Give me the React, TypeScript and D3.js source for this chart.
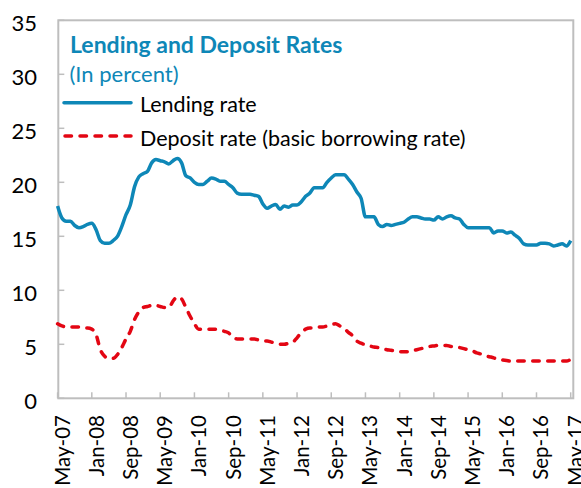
import React from "react";
import * as d3 from "d3";

// Monthly data, May-07 .. May-17 (index 0..120)
const lendingRate: number[] = [
  17.8, 16.7, 16.4, 16.4, 16.0, 15.8, 15.9, 16.1, 16.2, 15.6,
  14.6, 14.35, 14.35, 14.6, 15.0, 15.9, 17.0, 17.9, 19.6, 20.5,
  20.8, 21.0, 21.8, 22.1, 22.0, 21.9, 21.7, 22.0, 22.2, 21.8,
  20.6, 20.4, 20.0, 19.8, 19.8, 20.1, 20.4, 20.3, 20.1, 20.1,
  19.8, 19.5, 19.0, 18.9, 18.9, 18.9, 18.8, 18.7, 18.0, 17.6,
  17.8, 17.95, 17.5, 17.8, 17.7, 17.9, 17.9, 18.2, 18.7, 19.0,
  19.5, 19.5, 19.5, 20.0, 20.4, 20.7, 20.7, 20.7, 20.3, 19.8,
  19.1, 18.5, 16.8, 16.8, 16.8, 16.1, 15.9, 16.1, 16.0, 16.1,
  16.2, 16.3, 16.6, 16.8, 16.8, 16.7, 16.6, 16.6, 16.5, 16.8,
  16.6, 16.8, 16.9, 16.7, 16.6, 16.1, 15.8, 15.8, 15.8, 15.8,
  15.8, 15.8, 15.3, 15.5, 15.5, 15.3, 15.4, 15.1, 14.8, 14.3,
  14.2, 14.2, 14.2, 14.35, 14.35, 14.3, 14.1, 14.2, 14.3, 14.1,
  14.6,
];

const depositRate: number[] = [
  6.9, 6.7, 6.6, 6.6, 6.6, 6.6, 6.5, 6.5, 6.4, 5.9,
  4.5, 3.9, 3.7, 3.7, 4.05, 4.7, 5.5, 6.2, 7.3, 8.0,
  8.4, 8.5, 8.6, 8.6, 8.5, 8.4, 8.4, 9.0, 9.4, 9.2,
  8.4, 7.6, 6.9, 6.4, 6.4, 6.4, 6.4, 6.4, 6.3, 6.2,
  6.05, 5.6, 5.5, 5.5, 5.5, 5.5, 5.5, 5.4, 5.3, 5.3,
  5.2, 5.1, 5.0, 5.0, 5.1, 5.2, 5.6, 6.1, 6.4, 6.5,
  6.5, 6.6, 6.6, 6.7, 6.8, 6.9, 6.7, 6.5, 6.1, 5.8,
  5.3, 5.1, 4.95, 4.85, 4.75, 4.7, 4.6, 4.5, 4.45, 4.35,
  4.3, 4.3, 4.3, 4.4, 4.5, 4.6, 4.7, 4.8, 4.85, 4.9,
  4.9, 4.9, 4.8, 4.8, 4.7, 4.6, 4.5, 4.4, 4.2, 4.1,
  3.95, 3.85, 3.75, 3.6, 3.55, 3.5, 3.45, 3.45, 3.45, 3.45,
  3.45, 3.45, 3.45, 3.45, 3.45, 3.45, 3.45, 3.45, 3.45, 3.45,
  3.6,
];

const xTickLabels: string[] = [
  "May-07", "Jan-08", "Sep-08", "May-09", "Jan-10", "Sep-10", "May-11", "Jan-12",
  "Sep-12", "May-13", "Jan-14", "Sep-14", "May-15", "Jan-16", "Sep-16", "May-17",
];
const xTickStep = 8; // months between labelled ticks
const yTicks: number[] = [0, 5, 10, 15, 20, 25, 30, 35];

const seriesNames = ["Lending rate", "Deposit rate (basic borrowing rate)"];
const title = "Lending and Deposit Rates";
const subtitle = "(In percent)";

const W = 581;
const H = 488;
const plotLeft = 58.3;
const plotRight = 573.3;
const plotTop = 20.3;
const plotBottom = 398.3;
const FONT = "Lato, 'Open Sans', sans-serif";
const TEAL = "#0E87B7";
const RED = "#E30613";
const GRAY = "#BEBEBE";
const DASH = "6.5,8.5";

export default function App() {
  const x = d3.scaleLinear().domain([0, 120]).range([57.6, 570.7]);
  const y = d3.scaleLinear().domain([0, 35]).range([plotBottom, plotTop]);

  const line = d3
    .line<number>()
    .x((_, i) => x(i))
    .y((d) => y(d))
    .curve(d3.curveMonotoneX);

  return (
    <svg width={W} height={H} style={{ display: "block", position: "absolute", left: 0, top: 0 }}>
      <rect x={0} y={0} width={W} height={H} fill="#fff" />
      {/* frame */}
      <rect
        x={plotLeft}
        y={plotTop}
        width={plotRight - plotLeft}
        height={plotBottom - plotTop}
        fill="none"
        stroke={GRAY}
        strokeWidth={2}
      />
      {/* y ticks */}
      {yTicks.map((t) => (
        <g key={"y" + t}>
          <line x1={plotLeft} x2={plotLeft + 6} y1={y(t)} y2={y(t)} stroke={GRAY} strokeWidth={1.5} />
          <text
            x={37}
            y={y(t) + 10.4}
            textAnchor="end"
            fontFamily={FONT}
            fontSize={22}
            fill="#000"
          >
            {t}
          </text>
        </g>
      ))}
      {/* x ticks */}
      {xTickLabels.map((lab, k) => {
        const xi = x(k * xTickStep);
        return (
          <g key={lab}>
            <line x1={xi} x2={xi} y1={plotBottom} y2={plotBottom - 6} stroke={GRAY} strokeWidth={1.5} />
            <text
              transform={`translate(${xi + 12},415) rotate(-90)`}
              textAnchor="end"
              fontFamily={FONT}
              fontSize={20.5}
              fill="#000"
            >
              {lab}
            </text>
          </g>
        );
      })}
      {/* series */}
      <path d={line(lendingRate) || ""} fill="none" stroke={TEAL} strokeWidth={3.5} strokeLinejoin="round" />
      <path
        d={line(depositRate) || ""}
        fill="none"
        stroke={RED}
        strokeWidth={3.5}
        strokeDasharray={DASH}
        strokeLinecap="round"
        strokeLinejoin="round"
      />
      {/* title */}
      <text x={70} y={53.3} fontFamily={FONT} fontWeight="bold" fontSize={23} fill={TEAL}>
        {title}
      </text>
      <text x={69.5} y={81.7} fontFamily={FONT} fontSize={22} fill={TEAL}>
        {subtitle}
      </text>
      {/* legend */}
      <line x1={64} x2={131} y1={102.7} y2={102.7} stroke={TEAL} strokeWidth={3.5} strokeLinecap="round" />
      <text x={140} y={112.3} fontFamily={FONT} fontSize={21.5} fill="#000">
        {seriesNames[0]}
      </text>
      <line
        x1={65}
        x2={131}
        y1={136}
        y2={136}
        stroke={RED}
        strokeWidth={3.5}
        strokeDasharray={DASH}
        strokeLinecap="round"
      />
      <text x={140} y={145.5} fontFamily={FONT} fontSize={21.5} fill="#000">
        {seriesNames[1]}
      </text>
    </svg>
  );
}
